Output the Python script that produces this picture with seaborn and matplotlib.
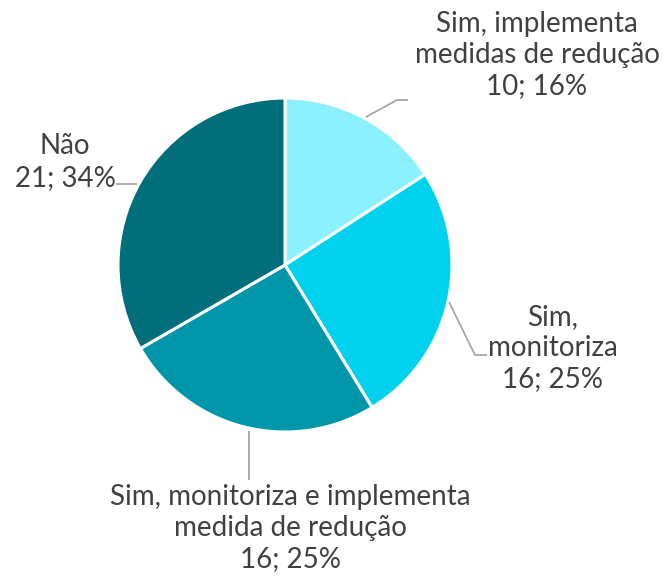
import matplotlib
matplotlib.use("Agg")
import matplotlib.pyplot as plt
import seaborn as sns
import numpy as np

categories = ["Sim, implementa\nmedidas de redução",
              "Sim,\nmonitoriza",
              "Sim, monitoriza e implementa\nmedida de redução",
              "Não"]
values = [10, 16, 16, 21]
percent_labels = ["16%", "25%", "25%", "34%"]
colors = ["#8CF1FF", "#00D2EE", "#0096AA", "#006E7B"]

sns.set_theme(style="white")
plt.rcParams['font.family'] = ['Lato', 'DejaVu Sans']

W, H = 664, 576
fig = plt.figure(figsize=(W / 100, H / 100), dpi=100)
ax = fig.add_axes([0, 0, 1, 1])

cx, cy, r = 285, H - 265, 167
wedges, _ = ax.pie(values, colors=colors, startangle=90, counterclock=False,
                   center=(cx, cy), radius=r, frame=True,
                   wedgeprops=dict(edgecolor='white', linewidth=2.2))
ax.set_xlim(0, W)
ax.set_ylim(0, H)
ax.set_aspect('equal')
ax.axis('off')

text_color = "#404040"
line_color = "#A6A6A6"
fs = 20

# label positions (pixel coords, y from top) and leader paths
label_pos = [(537, 55), (553, 348), (290, 528), (65, 162)]
leaders = [
    [(397, H - 100), (408, H - 100)],
    [(475, H - 355), (487, H - 355)],
    [(249, H - 480)],
    [(116, H - 184)],
]
edge_pts = [(366, H - 117), (449, H - 302), (249, H - 431), (137, H - 184)]

for i, (cat, v, p) in enumerate(zip(categories, values, percent_labels)):
    txt = f"{cat}\n{v}; {p}"
    x, y = label_pos[i]
    ax.text(x, H - y, txt, ha='center', va='center', fontsize=fs,
            color=text_color, linespacing=1.25)
    pts = [edge_pts[i]] + leaders[i]
    xs, ys = zip(*pts)
    ax.plot(xs, ys, color=line_color, linewidth=1.3, solid_capstyle='butt')

fig.savefig("out.png", dpi=100, facecolor='white')
